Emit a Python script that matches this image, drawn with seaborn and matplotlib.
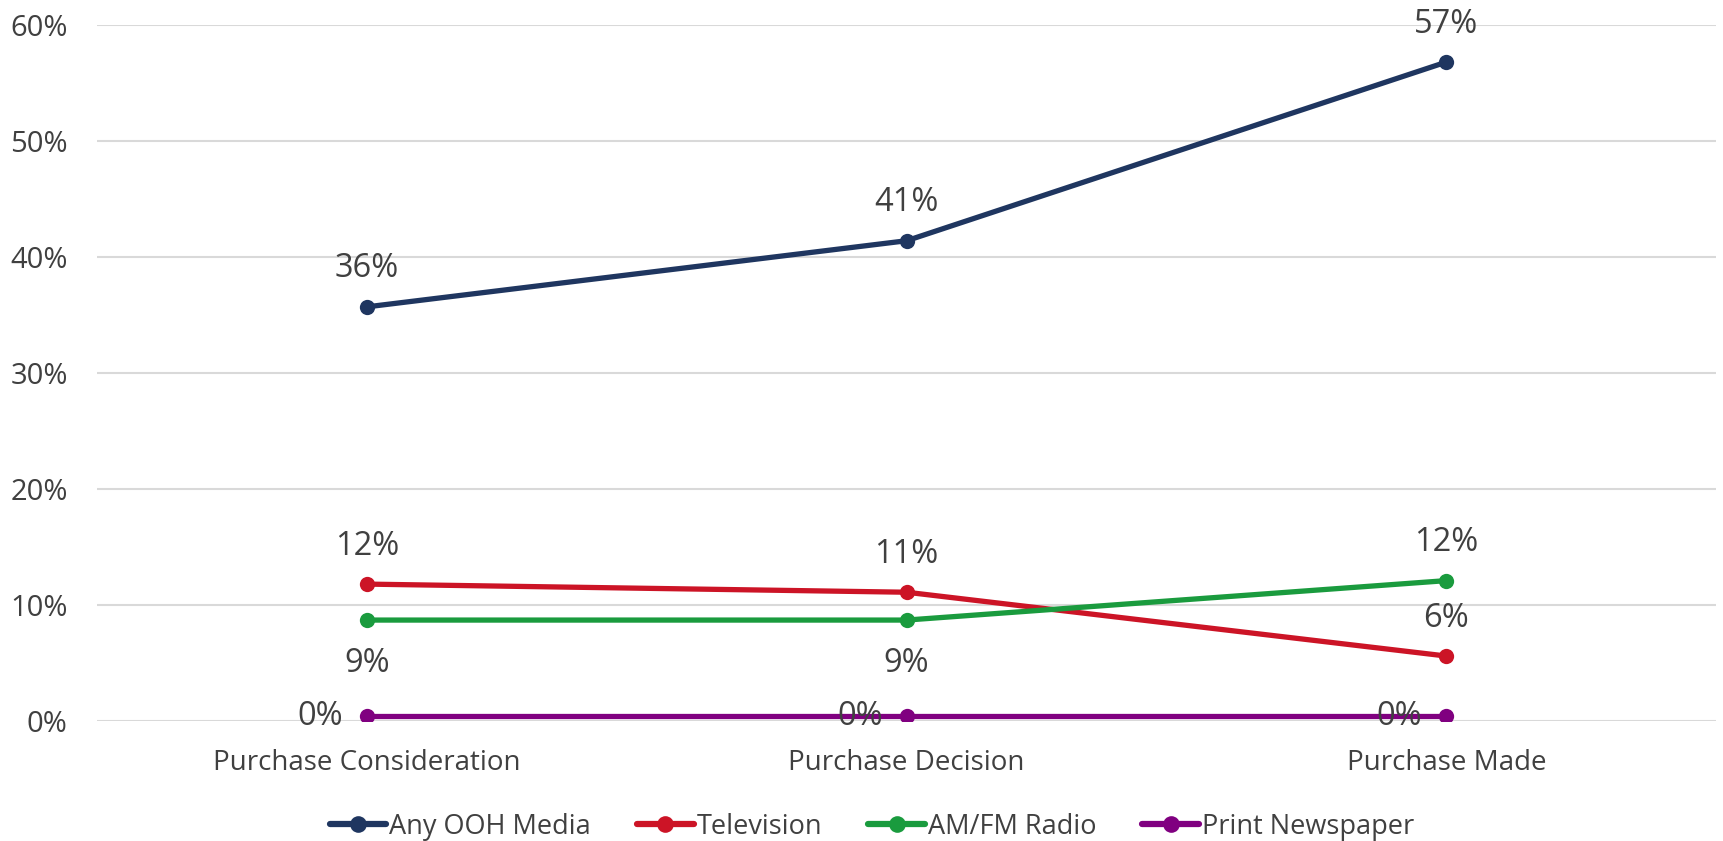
import matplotlib
matplotlib.use("Agg")
import matplotlib.pyplot as plt
import seaborn as sns
import pandas as pd

# Funnel stages and share of respondents influenced by each medium (%)
stages = ["Purchase Consideration", "Purchase Decision", "Purchase Made"]
series_names = ["Any OOH Media", "Television", "AM/FM Radio", "Print Newspaper"]
ooh_values = [35.7, 41.4, 56.8]
tv_values = [11.8, 11.1, 5.6]
radio_values = [8.7, 8.7, 12.1]
print_values = [0.4, 0.4, 0.4]
y_ticks = [0, 10, 20, 30, 40, 50, 60]

all_values = [ooh_values, tv_values, radio_values, print_values]
df = pd.DataFrame(
    [(s, st, v) for s, vals in zip(series_names, all_values) for st, v in zip(stages, vals)],
    columns=["series", "stage", "value"],
)

palette = {
    "Any OOH Media": "#1F3660",
    "Television": "#CC1426",
    "AM/FM Radio": "#1A9B3E",
    "Print Newspaper": "#800080",
}
# where each point's value label sits
label_side = {
    "Any OOH Media": ["above", "above", "above"],
    "Television": ["above", "above", "above"],
    "AM/FM Radio": ["below", "below", "above"],
    "Print Newspaper": ["left", "left", "left"],
}

text_color = "#404040"
sns.set_theme(style="white")
plt.rcParams["font.family"] = ["Open Sans", "DejaVu Sans"]

fig = plt.figure(figsize=(17.23, 8.41), dpi=100)
ax = fig.add_axes([0.0563, 0.1427, 0.9397, 0.8276])

sns.lineplot(
    data=df, x="stage", y="value", hue="series", hue_order=series_names,
    palette=palette, marker="o", markersize=11, markeredgewidth=0,
    linewidth=3.8, sort=False, ax=ax,
)

ax.set_xlim(-0.5, 2.5)
ax.set_ylim(0, 60)
ax.set_yticks(y_ticks)
ax.set_yticklabels([f"{t}%" for t in y_ticks])
ax.yaxis.grid(True, color="#D9D9D9", linewidth=1.5)
ax.xaxis.grid(False)
for sp in ax.spines.values():
    sp.set_visible(False)
ax.set_xlabel("")
ax.set_ylabel("")
ax.tick_params(axis="y", labelsize=21, labelcolor=text_color, pad=21, length=0)
ax.tick_params(axis="x", labelsize=20, labelcolor=text_color, pad=20, length=0)

offsets = {"above": (0, 38, "center"), "below": (0, -43, "center"), "left": (-24, 0, "right")}
for name, vals in zip(series_names, all_values):
    for i, v in enumerate(vals):
        dx, dy, ha = offsets[label_side[name][i]]
        ax.annotate(
            f"{v:.0f}%", (i, v), xytext=(dx, dy), textcoords="offset pixels",
            ha=ha, va="center", fontsize=23.5, color=text_color, zorder=5,
        )

handles, labels = ax.get_legend_handles_labels()
ax.get_legend().remove()
for h in handles:
    h.set_linewidth(4.5)
    h.set_markersize(12)
fig.legend(
    handles, labels, loc="center", bbox_to_anchor=(0.506, 0.017), ncol=4,
    frameon=False, fontsize=19.5, handlelength=2.1, handletextpad=0.1,
    columnspacing=1.7, labelcolor=text_color,
)

fig.savefig("out.png", dpi=100)
